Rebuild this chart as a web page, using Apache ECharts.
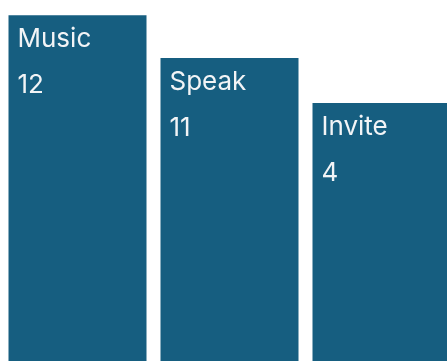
<!DOCTYPE html>
<html>
<head>
<meta charset="utf-8">
<script src="https://cdn.jsdelivr.net/npm/echarts@6/dist/echarts.min.js"></script>
<style>
html,body{margin:0;padding:0;background:#fff;}
#c{width:447px;height:361px;}
</style>
</head>
<body>
<div id="c"></div>
<script>
// Category names and their displayed values
var categories = ['Music', 'Speak', 'Invite'];
var counts = [12, 11, 4];
// Bar heights (share of the visible plot height, %)
var barHeights = [95.8, 83.9, 71.5];

var chart = echarts.init(document.getElementById('c'), null, {renderer: 'canvas'});
chart.setOption({
  animation: false,
  grid: {left: 1.5, top: 0, bottom: 0, width: 456, containLabel: false, outerBoundsMode: 'none'},
  xAxis: {
    type: 'category', data: categories,
    axisLine: {show: false}, axisTick: {show: false}, axisLabel: {show: false}
  },
  yAxis: {
    type: 'value', min: 0, max: 100,
    show: false, splitLine: {show: false}
  },
  series: [{
    type: 'bar',
    barWidth: 138,
    data: barHeights,
    itemStyle: {color: '#165e80'},
    label: {
      show: true,
      position: 'insideTopLeft',
      distance: 0,
      padding: [1, 0, 0, 9],
      formatter: function (p) {
        return '{n|' + categories[p.dataIndex] + '}\n{v|' + counts[p.dataIndex] + '}';
      },
      rich: {
        n: {fontFamily: 'Inter', fontSize: 26, lineHeight: 46, color: '#f2f4f6'},
        v: {fontFamily: 'Inter', fontSize: 26, lineHeight: 46, color: '#f2f4f6'}
      }
    }
  }]
});
</script>
</body>
</html>
